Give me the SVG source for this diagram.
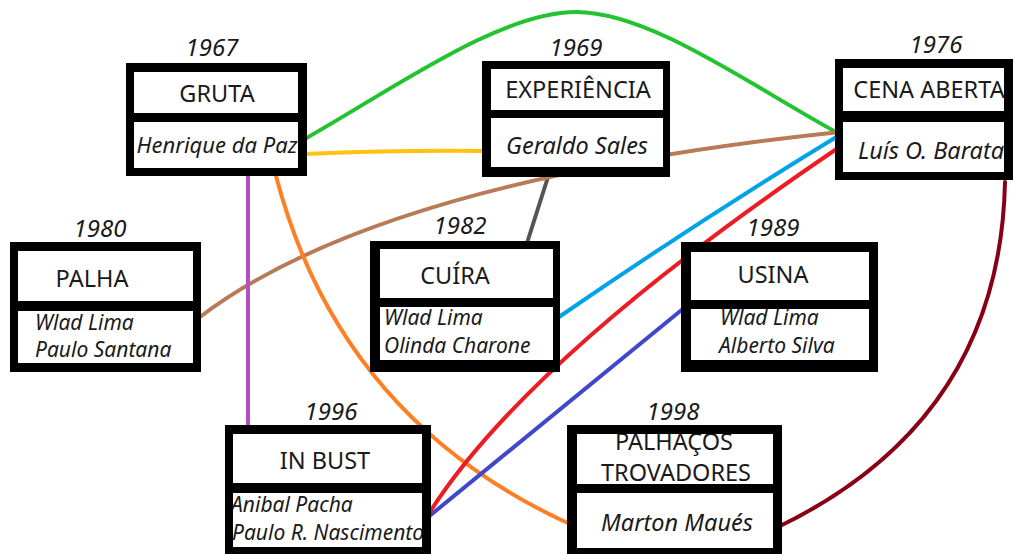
<svg xmlns="http://www.w3.org/2000/svg" width="1014" height="554" viewBox="0 0 1014 554">
<defs>
<style>
.box{fill:#000}
.in{fill:#fff}
.t{font-family:"Noto Sans","Open Sans",sans-serif;font-size:23.5px;fill:#1a1a1a;text-anchor:middle}
.y{font-family:"Noto Sans","Open Sans",sans-serif;font-size:24px;font-style:italic;fill:#1a1a1a;text-anchor:middle}
.p{font-family:"Noto Sans","Open Sans",sans-serif;font-size:23.5px;font-style:italic;fill:#1a1a1a;text-anchor:middle}
.p2{font-family:"Noto Sans","Open Sans",sans-serif;font-size:21px;font-style:italic;fill:#1a1a1a}
.c{fill:none;stroke-width:4;stroke-linecap:round}
</style>
<clipPath id="cPalha"><rect x="18" y="311" width="175" height="52"/></clipPath>
<clipPath id="cBust"><rect x="233" y="493" width="189" height="54"/></clipPath>
<clipPath id="cTrov"><rect x="577" y="434" width="196" height="50"/></clipPath>
</defs>
<rect width="1014" height="554" fill="#fff"/>

<g id="connectors">
<path class="c" stroke="#22c32e" d="M303,140 C395,88 500,12 576,12 C650,12 750,85 836,132"/>
<path class="c" stroke="#ffc20e" d="M305,154 Q400,150 484,151"/>
<path class="c" stroke="#555555" d="M548,177 L527,243"/>
<path class="c" stroke="#b97a57" d="M200,317 Q380,180 840,132"/>
<path class="c" stroke="#b44fc8" d="M248,176 L248,425"/>
<path class="c" stroke="#ff7f27" d="M276,176 Q340,420 572,525"/>
<path class="c" stroke="#00a2e8" d="M559,317 Q700,220 838,136"/>
<path class="c" stroke="#ed1c24" d="M428,515 Q525,360 838,148"/>
<path class="c" stroke="#3f48cc" d="M427,518 L684,308"/>
<path class="c" stroke="#880015" d="M778,527 Q1000,420 1005,182"/>
</g>

<g id="gruta">
<rect class="box" x="126" y="63" width="181" height="113"/>
<rect class="in" x="134" y="72" width="164" height="41"/>
<rect class="in" x="134" y="122" width="164" height="46"/>
<text class="y" x="212" y="56">1967</text>
<text class="t" x="217" y="102">GRUTA</text>
<text class="p" x="217" y="153" style="font-size:22px">Henrique da Paz</text>
</g>

<g id="experiencia">
<rect class="box" x="482" y="61" width="188" height="116"/>
<rect class="in" x="491" y="69" width="172" height="41"/>
<rect class="in" x="491" y="118" width="172" height="49"/>
<text class="y" x="576" y="56">1969</text>
<text class="t" x="578" y="98">EXPERIÊNCIA</text>
<text class="p" x="577" y="154">Geraldo Sales</text>
</g>

<g id="cena-aberta">
<rect class="box" x="835" y="59" width="178" height="121"/>
<rect class="in" x="843" y="68" width="161" height="43"/>
<rect class="in" x="843" y="122" width="161" height="50"/>
<text class="y" x="936" y="53">1976</text>
<text class="t" x="929" y="98">CENA ABERTA</text>
<text class="p" x="931" y="159">Luís O. Barata</text>
</g>

<g id="palha">
<rect class="box" x="10" y="242" width="191" height="130"/>
<rect class="in" x="18" y="251" width="175" height="50"/>
<rect class="in" x="18" y="311" width="175" height="52"/>
<text class="y" x="100" y="237">1980</text>
<text class="t" x="92" y="287">PALHA</text>
<g clip-path="url(#cPalha)">
<text class="p2" x="35" y="330">Wlad Lima</text>
<text class="p2" x="35" y="357">Paulo Santana</text>
</g>
</g>

<g id="cuira">
<rect class="box" x="370" y="241" width="190" height="131"/>
<rect class="in" x="380" y="249" width="173" height="49"/>
<rect class="in" x="380" y="307" width="173" height="53"/>
<text class="y" x="460" y="234">1982</text>
<text class="t" x="455" y="284">CUÍRA</text>
<text class="p2" x="384" y="325">Wlad Lima</text>
<text class="p2" x="384" y="353">Olinda Charone</text>
</g>

<g id="usina">
<rect class="box" x="681" y="242" width="197" height="130"/>
<rect class="in" x="691" y="252" width="178" height="48"/>
<rect class="in" x="691" y="309" width="178" height="51"/>
<text class="y" x="773" y="236">1989</text>
<text class="t" x="773" y="283">USINA</text>
<text class="p2" x="720" y="325">Wlad Lima</text>
<text class="p2" x="719" y="353">Alberto Silva</text>
</g>

<g id="in-bust">
<rect class="box" x="225" y="425" width="206" height="129"/>
<rect class="in" x="233" y="434" width="189" height="49"/>
<rect class="in" x="233" y="493" width="189" height="54"/>
<text class="y" x="331" y="420">1996</text>
<text class="t" x="325" y="469">IN BUST</text>
<g clip-path="url(#cBust)">
<text class="p2" x="231" y="512">Anibal Pacha</text>
<text class="p2" x="232" y="540">Paulo R. Nascimento</text>
</g>
</g>

<g id="palhacos-trovadores">
<rect class="box" x="567" y="425" width="215" height="129"/>
<rect class="in" x="577" y="434" width="196" height="50"/>
<rect class="in" x="577" y="493" width="196" height="55"/>
<text class="y" x="673" y="420">1998</text>
<g clip-path="url(#cTrov)">
<text class="t" x="674" y="450">PALHAÇOS</text>
<text class="t" x="676" y="481">TROVADORES</text>
</g>
<text class="p" x="677" y="531">Marton Maués</text>
</g>
</svg>
